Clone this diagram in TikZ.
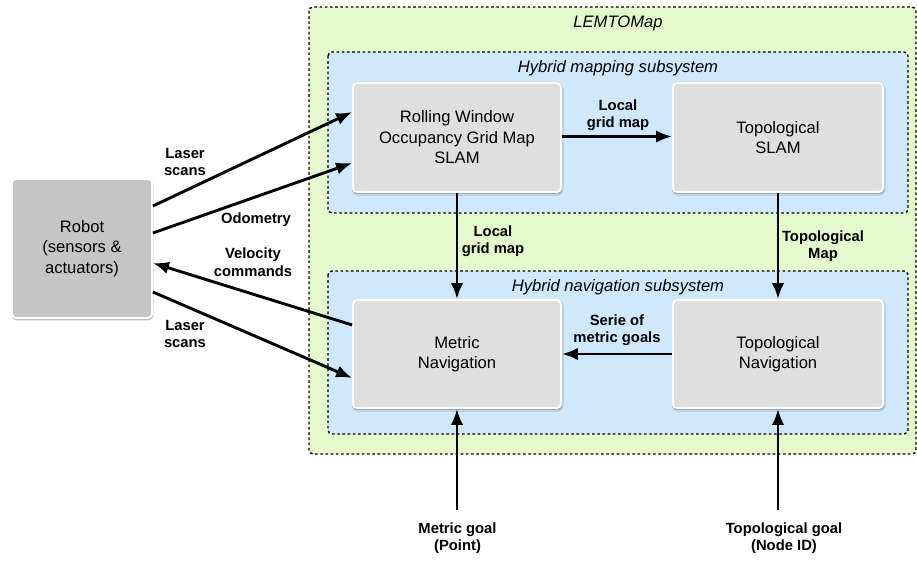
\documentclass[tikz,border=0pt]{standalone}
\usepackage{fontspec}
\setmainfont{Liberation Sans}
\usetikzlibrary{arrows.meta,shadows.blur}
\definecolor{lemgreen}{HTML}{E4F9CC}
\definecolor{subblue}{HTML}{D0E8FC}
\definecolor{modgray}{HTML}{DFDFDF}
\definecolor{robgray}{HTML}{C5C5C5}
\tikzset{
  module/.style={rectangle, rounded corners=4pt, draw=white, line width=1.8pt,
    fill=modgray, align=center, inner sep=0pt,
    blur shadow={shadow xshift=0.6pt, shadow yshift=-1.6pt, shadow blur steps=5,
      shadow blur radius=1.5pt, shadow opacity=45},
    font=\fontsize{16.6}{20.5}\selectfont},
  grp/.style={rounded corners=4pt, draw=black, line width=1.4pt,
    dash pattern=on 2.6pt off 2.6pt},
  flow/.style={line width=2.9pt, -{Latex[length=16pt,width=12.5pt]}},
  lbl/.style={font=\bfseries\fontsize{14.8}{17.5}\selectfont, align=center, inner sep=0pt},
  ttl/.style={font=\itshape\fontsize{16.6}{20}\selectfont, inner sep=0pt}
}
\begin{document}
\begin{tikzpicture}[x=1pt,y=1pt]
\useasboundingbox (0,0) rectangle (917,-561);

% grouping frames
\draw[grp, fill=lemgreen] (309,-7) rectangle (916,-454);
\node[ttl] (lemtomap) at (618,-23) {LEMTOMap};
\draw[grp, fill=subblue] (328,-52) rectangle (908,-213);
\node[ttl] (maptitle) at (618,-68) {Hybrid mapping subsystem};
\draw[grp, fill=subblue] (328,-271) rectangle (908,-434);
\node[ttl] (navtitle) at (618,-287) {Hybrid navigation subsystem};

% modules
\node[module, fill=robgray, minimum width=140pt, minimum height=139pt] (robot) at (82,-248.5)
  {Robot\\(sensors \&\\actuators)};
\node[module, minimum width=208pt, minimum height=109pt] (rolling) at (457,-137.5)
  {Rolling Window\\Occupancy Grid Map\\SLAM};
\node[module, minimum width=210pt, minimum height=109pt] (toposlam) at (778,-137.5)
  {Topological\\SLAM};
\node[module, minimum width=208pt, minimum height=108pt] (metric) at (457,-354)
  {Metric\\Navigation};
\node[module, minimum width=210pt, minimum height=108pt] (toponav) at (778,-354)
  {Topological\\Navigation};

% external goal inputs
\node[lbl] (mgoal) at (457.5,-538) {Metric goal\\(Point)};
\node[lbl] (tgoal) at (784,-538) {Topological goal\\(Node ID)};
\coordinate (mgoalin) at (457,-510);
\coordinate (tgoalin) at (778,-510);

% data flows
\draw[flow] ([yshift=42.5pt]robot.east) -- ([yshift=25.5pt]rolling.west);
\draw[flow] ([yshift=15.5pt]robot.east) -- ([yshift=-25.5pt]rolling.west);
\draw[flow] ([yshift=29pt]metric.west) -- ([yshift=-14.5pt]robot.east);
\draw[flow] ([yshift=-43.5pt]robot.east) -- ([yshift=-24pt]metric.west);
\draw[flow] ([yshift=1pt]rolling.east) -- ([yshift=1pt]toposlam.west);
\draw[flow] (rolling.south) -- (metric.north);
\draw[flow] (toposlam.south) -- (toponav.north);
\draw[flow] (toponav.west) -- (metric.east);
\draw[flow] (mgoalin) -- (metric.south);
\draw[flow] (tgoalin) -- (toponav.south);

% flow labels
\node[lbl] (l1) at (185,-162) {Laser\\scans};
\node[lbl] (l2) at (256,-220) {Odometry};
\node[lbl] (l3) at (253,-262) {Velocity\\commands};
\node[lbl] (l4) at (185,-334) {Laser\\scans};
\node[lbl] (l5) at (618,-115) {Local\\grid map};
\node[lbl] (l6) at (493,-241) {Local\\grid map};
\node[lbl] (l7) at (823,-246) {Topological\\Map};
\node[lbl] (l8) at (617,-330) {Serie of\\metric goals};
\end{tikzpicture}
\end{document}
